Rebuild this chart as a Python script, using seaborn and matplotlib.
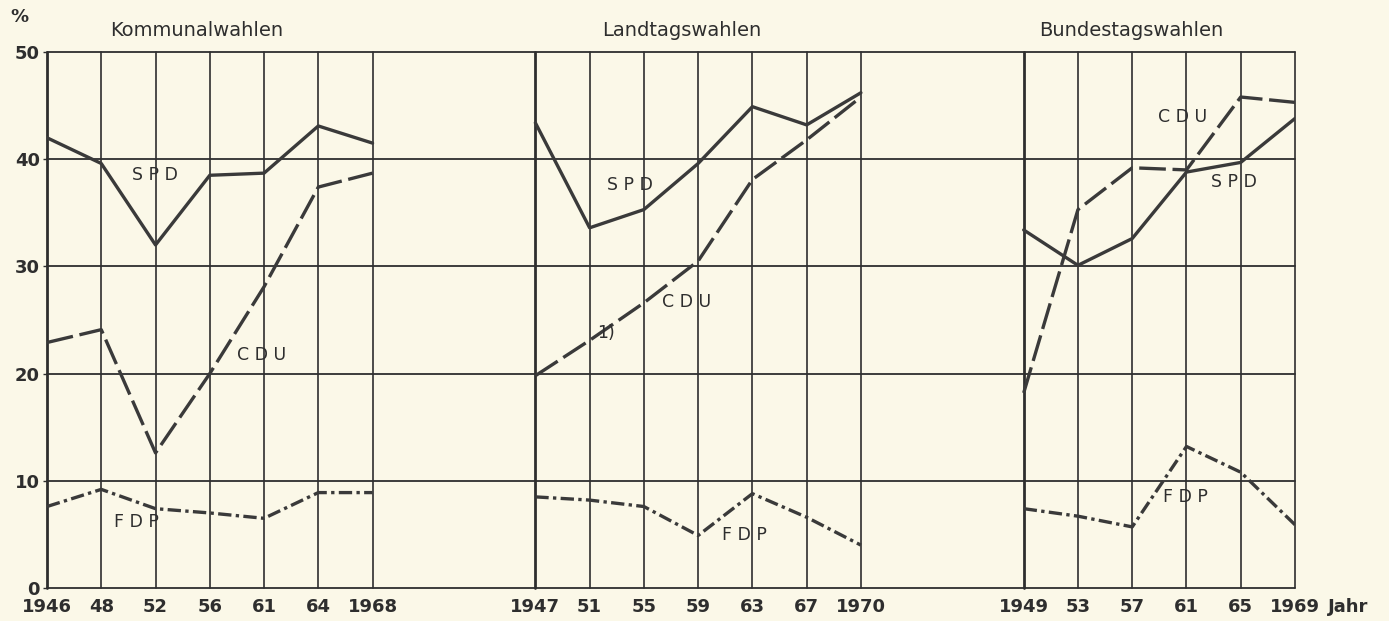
import matplotlib
matplotlib.use("Agg")
import matplotlib.pyplot as plt
import seaborn as sns
import pandas as pd

# --- data (Niedersachsen, Stimmenanteile in %) ---
panels = ["Kommunalwahlen", "Landtagswahlen", "Bundestagswahlen"]

komm_years = ["1946", "48", "52", "56", "61", "64", "1968"]
komm_spd = [42.0, 39.6, 32.0, 38.5, 38.7, 43.1, 41.5]
komm_cdu = [22.9, 24.1, 12.6, 20.0, 28.1, 37.4, 38.7]
komm_fdp = [7.6, 9.2, 7.4, 7.0, 6.5, 8.9, 8.9]

land_years = ["1947", "51", "55", "59", "63", "67", "1970"]
land_spd = [43.4, 33.6, 35.3, 39.6, 44.9, 43.2, 46.2]
land_cdu = [19.8, 23.1, 26.6, 30.5, 38.1, 41.8, 45.8]
land_fdp = [8.5, 8.2, 7.6, 4.9, 8.8, 6.6, 4.0]

bund_years = ["1949", "53", "57", "61", "65", "1969"]
bund_spd = [33.4, 30.1, 32.6, 38.8, 39.7, 43.8]
bund_cdu = [18.2, 35.3, 39.2, 39.0, 45.8, 45.3]
bund_fdp = [7.4, 6.7, 5.7, 13.2, 10.8, 5.9]

y_ticks = [0, 10, 20, 30, 40, 50]

# --- style ---
PAPER = "#fbf8e8"
INK = "#2e2e2e"
LINE = "#3a3a3a"

sns.set_theme(style="white")
plt.rcParams["font.family"] = ["DejaVu Sans"]

# panel start positions on the shared x axis (one slot per election, gap of 2 between panels)
offsets = [0, 9, 18]
panel_data = [
    (komm_years, {"SPD": komm_spd, "CDU": komm_cdu, "FDP": komm_fdp}),
    (land_years, {"SPD": land_spd, "CDU": land_cdu, "FDP": land_fdp}),
    (bund_years, {"SPD": bund_spd, "CDU": bund_cdu, "FDP": bund_fdp}),
]

rows = []
tick_pos, tick_lab = [], []
for name, off, (years, series) in zip(panels, offsets, panel_data):
    for i, yr in enumerate(years):
        tick_pos.append(off + i)
        tick_lab.append(yr)
    for party, vals in series.items():
        for i, v in enumerate(vals):
            rows.append({"panel": name, "party": party, "pos": off + i, "value": v})
df = pd.DataFrame(rows)

fig = plt.figure(figsize=(13.89, 6.21), dpi=100)
fig.patch.set_facecolor(PAPER)
ax = fig.add_axes([47 / 1389, 33 / 621, (1295 - 47) / 1389, (588 - 52) / 621])
ax.set_facecolor(PAPER)

x_max = tick_pos[-1]
ax.set_xlim(0, x_max)
ax.set_ylim(0, 50)

# grid: horizontal lines across the whole width, vertical lines only at election years
for y in y_ticks:
    ax.axhline(y, color=INK, lw=1.3, clip_on=False, zorder=1)
for off, (years, _) in zip(offsets, panel_data):
    for i in range(len(years)):
        ax.axvline(off + i, color=INK, lw=2.0 if i == 0 else 1.2, clip_on=False, zorder=1)

dash_map = {"SPD": "", "CDU": (8, 2), "FDP": (4, 1.3, 1, 1.3)}
sns.lineplot(data=df, x="pos", y="value", style="party", units="panel",
             estimator=None, dashes=dash_map, color=LINE, linewidth=2.4,
             legend=False, ax=ax, zorder=3)

for s in ax.spines.values():
    s.set_visible(False)

ax.set_xticks(tick_pos)
ax.set_xticklabels(tick_lab, fontsize=13, fontweight="bold", color=INK)
ax.set_yticks(y_ticks)
ax.set_yticklabels([str(t) for t in y_ticks], fontsize=13, fontweight="bold", color=INK)
ax.tick_params(axis="x", length=0, pad=7)
ax.tick_params(axis="y", length=3, width=1, color=INK, pad=2, left=True)
ax.set_xlabel("")
ax.set_ylabel("")

# titles and annotations
title_x = [2.76, 11.7, 19.98]
for name, tx in zip(panels, title_x):
    ax.text(tx, 52.0, name, ha="center", va="center", fontsize=14, color=INK, clip_on=False)
ax.text(-0.5, 53.3, "%", ha="center", va="center", fontsize=13, fontweight="bold", color=INK, clip_on=False)
ax.text(x_max + 0.6, -1.75, "Jahr", ha="left", va="center", fontsize=13, fontweight="bold", color=INK, clip_on=False)

labels = [
    ("S P D", 1.99, 38.5), ("C D U", 3.96, 21.7), ("F D P", 1.64, 6.2),
    ("S P D", 10.74, 37.6), ("C D U", 11.78, 26.7), ("F D P", 12.86, 4.9),
    ("C D U", 20.92, 43.9), ("S P D", 21.88, 37.9), ("F D P", 20.99, 8.5),
]
for txt, x, y in labels:
    ax.text(x, y, txt, ha="center", va="center", fontsize=12.5, color=INK, zorder=4)
ax.text(10.3, 23.8, "1)", ha="center", va="center", fontsize=12.5, color=INK, zorder=4)

fig.savefig("out.png", dpi=100, facecolor=PAPER)
